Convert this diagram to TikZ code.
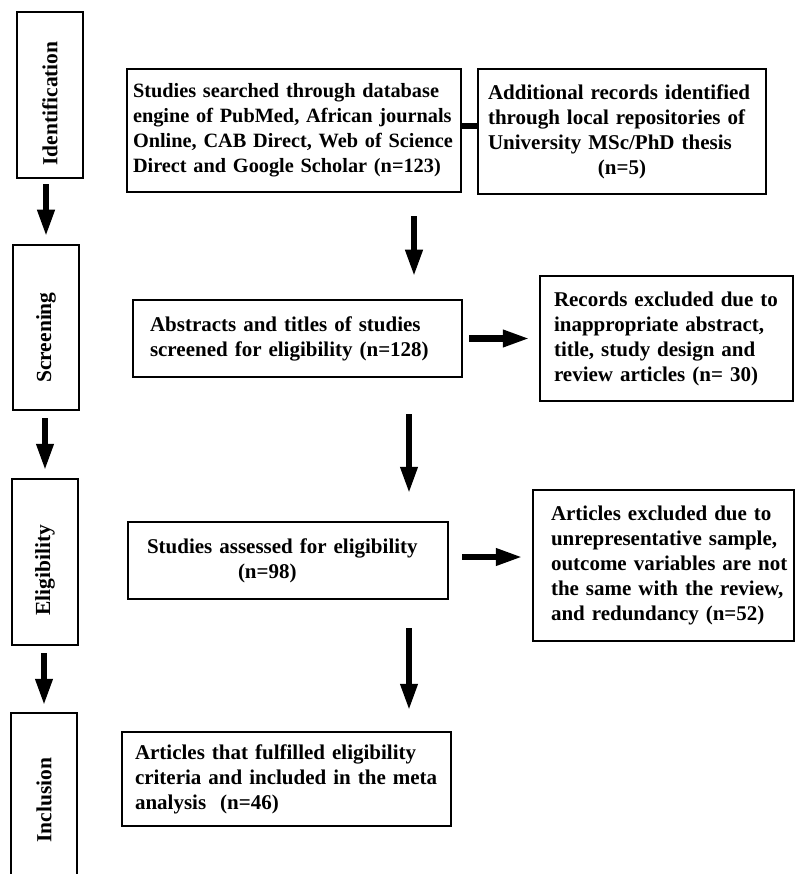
\documentclass[tikz,border=0pt]{standalone}
\usepackage{fontspec}
\setmainfont{Liberation Serif}
\usetikzlibrary{arrows.meta}
\begin{document}
\begin{tikzpicture}[x=1pt,y=-1pt,
  box/.style={draw, line width=2.5pt, align=left, inner ysep=0pt,
    font=\bfseries\fontsize{21}{25}\selectfont},
  stage/.style={draw, line width=2.5pt, rotate=90, minimum height=66pt,
    inner sep=0pt, font=\bfseries\fontsize{21.5}{24}\selectfont},
  arr/.style={line width=6.5pt, -{Triangle[length=27pt,width=16pt]}},
  link/.style={line width=6pt},
]
\useasboundingbox (0,0) rectangle (796,874);

% stage boxes
\node[stage, minimum width=166pt] (ident) at (50,95) {Identification\hspace*{17pt}};
\node[stage, minimum width=165pt] (screen) at (46,327.5) {Screening\hspace*{20pt}};
\node[stage, minimum width=166pt] (elig) at (45,562) {Eligibility\hspace*{16pt}};
\node[stage, minimum width=174pt] (incl) at (44,800) {Inclusion};

% main boxes
\node[box, font=\bfseries\fontsize{20.3}{25}\selectfont, minimum width=334pt, minimum height=123pt, text width=322pt, inner xsep=6pt] (b1) at (294,130.5)
  {\mbox{Studies searched through database}\\\mbox{engine of PubMed, African journals}\\\mbox{Online, CAB Direct, Web of Science}\\\mbox{Direct and Google Scholar (n=123)}};
\node[box, minimum width=288pt, minimum height=125pt, text width=268pt, inner xsep=10pt] (b2) at (622,131.5)
  {\mbox{Additional records identified}\\\mbox{through local repositories of}\\\mbox{University MSc/PhD thesis}\\\makebox[268pt]{(n=5)}};
\node[box, minimum width=329pt, minimum height=77pt, text width=295pt, inner xsep=17pt] (b3) at (297.5,338.5)
  {\mbox{Abstracts and titles of studies}\\\mbox{screened for eligibility (n=128)}};
\node[box, minimum width=320pt, minimum height=77pt, text width=282pt, inner xsep=19pt] (b4) at (288,560.5)
  {\mbox{Studies assessed for eligibility}\\\hspace*{91pt}(n=98)};
\node[box, minimum width=329pt, minimum height=94pt, text width=303pt, inner xsep=13pt] (b5) at (286.5,779)
  {\mbox{Articles that fulfilled eligibility}\\\mbox{criteria and included in the meta}\\\mbox{analysis\ \ (n=46)}};
\node[box, minimum width=253pt, minimum height=125pt, text width=225pt, inner xsep=14pt] (ex1) at (666.5,338.5)
  {\mbox{Records excluded due to}\\\mbox{inappropriate abstract,}\\\mbox{title, study design and}\\\mbox{review articles (n= 30)}};
\node[box, minimum width=261pt, minimum height=151pt, text width=225pt, inner xsep=18pt] (ex2) at (663.5,565.5)
  {\mbox{Articles excluded due to}\\\mbox{unrepresentative sample,}\\\mbox{outcome variables are not}\\\mbox{the same with the review,}\\\mbox{and redundancy (n=52)}};

% stage arrows
\draw[arr, shorten <=5pt, shorten >=7pt] (screen.east |- ident.west) -- (screen.east);
\draw[arr, shorten <=7pt, shorten >=7pt] (elig.east |- screen.west) -- (elig.east);
\draw[arr, shorten <=7pt, shorten >=6pt] (incl.east |- elig.west) -- (incl.east);

% link between sources
\draw[link] ([yshift=4pt]b1.east) -- ([yshift=4pt]b1.east -| b2.west);

% main arrows
\draw[arr, shorten <=23pt, shorten >=22pt] ([xshift=120pt]b1.south) -- ([xshift=120pt]b1.south |- b3.north);
\draw[arr, shorten <=36pt, shorten >=27pt] ([xshift=111.5pt]b3.south) -- ([xshift=111.5pt]b3.south |- b4.north);
\draw[arr, shorten <=28pt, shorten >=20pt] ([xshift=121pt]b4.south) -- ([xshift=121pt]b4.south |- b5.north);
\draw[arr, shorten <=6pt, shorten >=9pt] (b3.east) -- (b3.east -| ex1.west);
\draw[arr, shorten <=13pt, shorten >=9pt] ([yshift=3.5pt]b4.east) -- ([yshift=3.5pt]b4.east -| ex2.west);
\end{tikzpicture}
\end{document}
